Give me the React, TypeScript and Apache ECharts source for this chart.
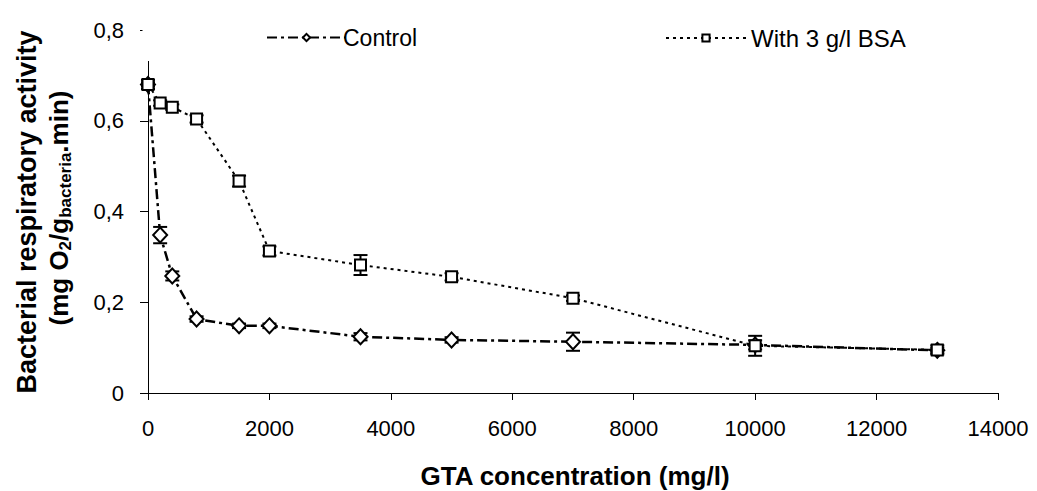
import React, { useEffect, useRef } from "react";
import * as echarts from "echarts";

const concentrations = [0, 200, 400, 800, 1500, 2000, 3500, 5000, 7000, 10000, 13000];
const controlValues = [0.68, 0.348, 0.258, 0.163, 0.148, 0.148, 0.124, 0.117, 0.113, 0.106, 0.094];
const controlErrors = [0.005, 0.018, 0.01, 0.006, 0.005, 0.005, 0.008, 0.006, 0.02, 0.01, 0.006];
const bsaValues = [0.68, 0.639, 0.63, 0.604, 0.467, 0.313, 0.282, 0.256, 0.209, 0.104, 0.095];
const bsaErrors = [0.01, 0.006, 0.006, 0.008, 0.012, 0.01, 0.022, 0.008, 0.006, 0.022, 0.01];
const seriesNames = ["Control", "With 3 g/l BSA"];
const xTitle = "GTA concentration (mg/l)";
const yTitleLine1 = "Bacterial respiratory activity";

const FONT = "'Liberation Sans', Arial, sans-serif";

function errorSeries(values: number[], errors: number[]) {
  return {
    type: "custom",
    z: 1,
    silent: true,
    data: concentrations.map((c, i) => [c, values[i] - errors[i], values[i] + errors[i]]),
    renderItem: (params: any, api: any) => {
      const lo = api.coord([api.value(0), api.value(1)]);
      const hi = api.coord([api.value(0), api.value(2)]);
      const hw = 7;
      const style = { stroke: "#000", lineWidth: 2 };
      return {
        type: "group",
        children: [
          { type: "line", shape: { x1: lo[0], y1: lo[1], x2: hi[0], y2: hi[1] }, style },
          { type: "line", shape: { x1: lo[0] - hw, y1: lo[1], x2: lo[0] + hw, y2: lo[1] }, style },
          { type: "line", shape: { x1: hi[0] - hw, y1: hi[1], x2: hi[0] + hw, y2: hi[1] }, style },
        ],
      };
    },
  };
}

export default function App() {
  const ref = useRef<HTMLDivElement>(null);
  useEffect(() => {
    if (!ref.current) return;
    const chart = echarts.init(ref.current, undefined, { renderer: "svg" });
    chart.setOption({
      animation: false,
      textStyle: { fontFamily: FONT },
      grid: { left: 148, right: 39, top: 30, bottom: 98, containLabel: false },
      legend: [
        {
          data: [seriesNames[0]],
          left: 261,
          top: 21,
          itemWidth: 79,
          itemHeight: 9,
          itemGap: 0,
          textStyle: { fontFamily: FONT, fontSize: 23, color: "#000", padding: [0, 0, 0, -8] },
          z: 10,
        },
        {
          data: [seriesNames[1]],
          left: 660,
          top: 21,
          itemWidth: 80,
          itemHeight: 9,
          itemGap: 0,
          textStyle: { fontFamily: FONT, fontSize: 24, color: "#000", padding: [0, 0, 0, 0] },
          z: 10,
        },
      ],
      xAxis: {
        type: "value",
        min: 0,
        max: 14000,
        interval: 2000,
        splitLine: { show: false },
        axisLine: { lineStyle: { color: "#000", width: 1 } },
        axisTick: { show: true, inside: false, length: 7, lineStyle: { color: "#000" } },
        axisLabel: {
          fontFamily: FONT,
          fontSize: 22,
          color: "#000",
          margin: 24,
          formatter: (v: number) => String(v),
        },
      },
      yAxis: {
        type: "value",
        min: 0,
        max: 0.8,
        interval: 0.2,
        splitLine: { show: false },
        axisLine: { show: true, lineStyle: { color: "#000", width: 1 } },
        axisTick: { show: true, inside: false, length: 8, lineStyle: { color: "#000" } },
        axisLabel: {
          fontFamily: FONT,
          fontSize: 22,
          color: "#000",
          margin: 24,
          formatter: (v: number) => (v === 0 ? "0" : v.toFixed(1).replace(".", ",")),
        },
      },
      graphic: [
        {
          type: "rect",
          z: 5,
          shape: { x: 142.5, y: 6, width: 840, height: 55 },
          style: { fill: "#fff" },
        },
        {
          type: "text",
          x: 575,
          y: 476,
          style: {
            text: xTitle,
            font: `bold 26px ${FONT}`,
            fill: "#000",
            textAlign: "center",
            textVerticalAlign: "middle",
          },
        },
        {
          type: "text",
          x: 27,
          y: 212,
          rotation: Math.PI / 2,
          style: {
            text: yTitleLine1,
            font: `bold 27px ${FONT}`,
            fill: "#000",
            textAlign: "center",
            textVerticalAlign: "middle",
          },
        },
        {
          type: "text",
          x: 60,
          y: 208,
          rotation: Math.PI / 2,
          style: {
            text: "{a|(mg O}{s|2}{a|/g}{s|bacteria}{a|.min)}",
            textAlign: "center",
            textVerticalAlign: "middle",
            fill: "#000",
            rich: {
              a: { fontFamily: FONT, fontWeight: "bold", fontSize: 26, lineHeight: 28, verticalAlign: "top", fill: "#000" },
              s: { fontFamily: FONT, fontWeight: "bold", fontSize: 17, lineHeight: 16, verticalAlign: "bottom", fill: "#000" },
            },
          },
        },
      ],
      series: [
        errorSeries(controlValues, controlErrors),
        errorSeries(bsaValues, bsaErrors),
        {
          name: seriesNames[0],
          type: "line",
          z: 3,
          data: concentrations.map((c, i) => [c, controlValues[i]]),
          symbol: "diamond",
          symbolSize: [14, 15],
          showAllSymbol: true,
          lineStyle: { color: "#000", width: 2.5, type: [10, 4, 3, 4] },
          itemStyle: { color: "#fff", borderColor: "#000", borderWidth: 2 },
        },
        {
          name: seriesNames[1],
          type: "line",
          z: 4,
          data: concentrations.map((c, i) => [c, bsaValues[i]]),
          symbol: "rect",
          symbolSize: 11,
          showAllSymbol: true,
          lineStyle: { color: "#000", width: 2, type: [3, 4] },
          itemStyle: { color: "#fff", borderColor: "#000", borderWidth: 2 },
        },
      ],
    });
    return () => chart.dispose();
  }, []);
  return (
    <div
      ref={ref}
      style={{ position: "fixed", left: 0, top: 0, width: 1037, height: 491, background: "#fff" }}
    />
  );
}
